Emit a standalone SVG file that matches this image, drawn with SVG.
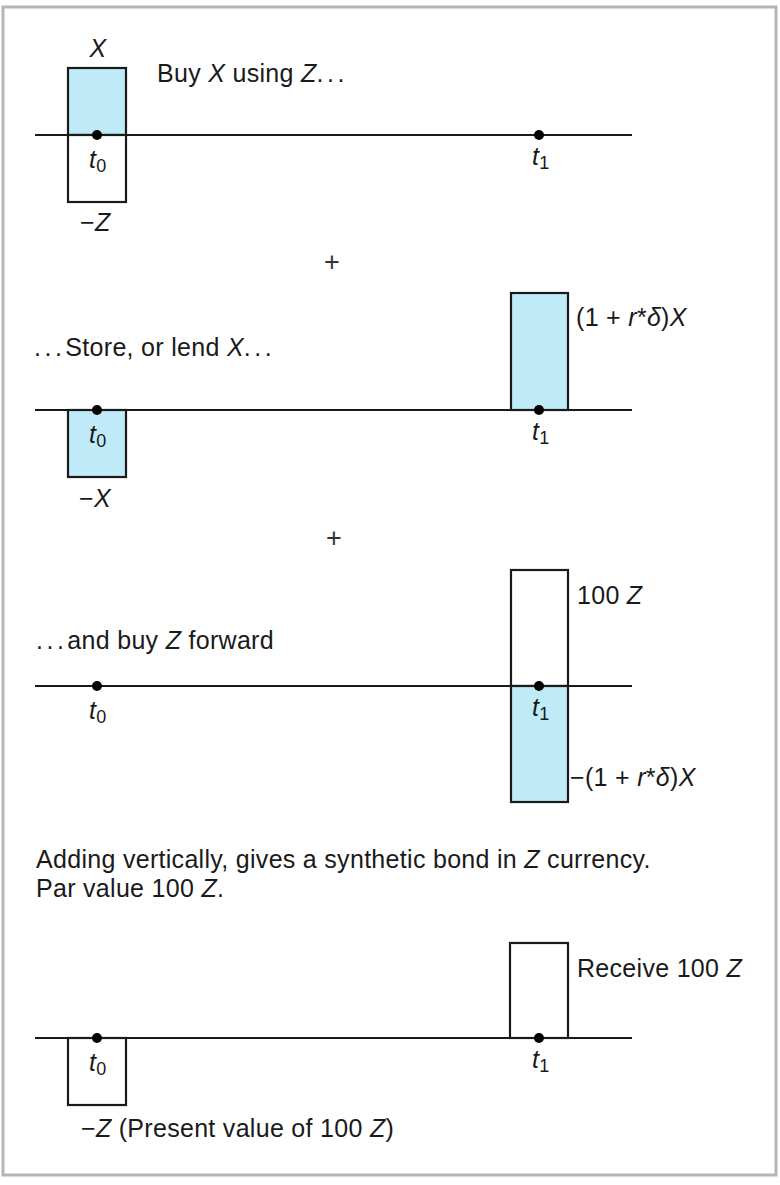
<svg xmlns="http://www.w3.org/2000/svg" width="780" height="1185" viewBox="0 0 780 1185">
<style>
text{font-family:"Liberation Sans",Arial,sans-serif;font-size:25px;fill:#1a1a1a;letter-spacing:0.3px}
.i{font-style:italic}
.sub{font-size:18px;font-style:normal}
.c{text-anchor:middle}
.plus{font-size:27px;letter-spacing:0;fill:#333}
.ax{stroke:#1a1a1a;stroke-width:2;fill:none}
.box{stroke:#1a1a1a;stroke-width:2.2}
.blue{fill:#bfeaf8}
.white{fill:#ffffff}
.dot{fill:#000}
.dots{letter-spacing:3.5px}
</style>
<rect x="3" y="7" width="773" height="1168" fill="#fff" stroke="#b5b5b5" stroke-width="3"/>
<g id="connectors">
<line class="ax" x1="35" y1="135" x2="632" y2="135"/>
<line class="ax" x1="35" y1="410" x2="632" y2="410"/>
<line class="ax" x1="35" y1="686" x2="632" y2="686"/>
<line class="ax" x1="35" y1="1038" x2="632" y2="1038"/>
</g>
<g id="panel1">
<rect class="box blue" x="68" y="68" width="58" height="67"/>
<rect class="box white" x="68" y="135" width="58" height="67"/>
<line class="ax" x1="35" y1="135" x2="632" y2="135"/>
<circle class="dot" cx="97" cy="135" r="5"/>
<circle class="dot" cx="539" cy="135" r="5"/>
<text class="c i" x="98" y="57">X</text>
<text x="157" y="82">Buy <tspan class="i">X</tspan> using <tspan class="i">Z</tspan><tspan class="dots">...</tspan></text>
<text x="89" y="168"><tspan class="i">t</tspan><tspan class="sub" dy="4">0</tspan></text>
<text x="532" y="165"><tspan class="i">t</tspan><tspan class="sub" dy="4">1</tspan></text>
<text x="80" y="231">−<tspan class="i">Z</tspan></text>
</g>
<g id="plus1"><text class="c plus" x="332" y="271">+</text></g>
<g id="panel2">
<rect class="box blue" x="68" y="410" width="58" height="67"/>
<rect class="box blue" x="511" y="293" width="57" height="117"/>
<line class="ax" x1="35" y1="410" x2="632" y2="410"/>
<circle class="dot" cx="97" cy="410" r="5"/>
<circle class="dot" cx="539" cy="410" r="5"/>
<text x="34" y="356"><tspan class="dots">...</tspan>Store, or lend <tspan class="i">X</tspan><tspan class="dots">...</tspan></text>
<text x="576" y="326">(1 + <tspan class="i">r</tspan>*<tspan class="i">δ</tspan>)<tspan class="i">X</tspan></text>
<text x="89" y="443"><tspan class="i">t</tspan><tspan class="sub" dy="4">0</tspan></text>
<text x="532" y="440"><tspan class="i">t</tspan><tspan class="sub" dy="4">1</tspan></text>
<text x="79" y="507">−<tspan class="i">X</tspan></text>
</g>
<g id="plus2"><text class="c plus" x="334" y="547">+</text></g>
<g id="panel3">
<rect class="box white" x="511" y="570" width="57" height="116"/>
<rect class="box blue" x="511" y="686" width="57" height="116"/>
<line class="ax" x1="35" y1="686" x2="632" y2="686"/>
<circle class="dot" cx="97" cy="686" r="5"/>
<circle class="dot" cx="539" cy="686" r="5"/>
<text x="36" y="649"><tspan class="dots">...</tspan>and buy <tspan class="i">Z</tspan> forward</text>
<text x="577" y="604">100 <tspan class="i">Z</tspan></text>
<text x="570" y="786">−(1 + <tspan class="i">r</tspan>*<tspan class="i">δ</tspan>)<tspan class="i">X</tspan></text>
<text x="89" y="719"><tspan class="i">t</tspan><tspan class="sub" dy="4">0</tspan></text>
<text x="532" y="716"><tspan class="i">t</tspan><tspan class="sub" dy="4">1</tspan></text>
</g>
<g id="summary">
<text x="36" y="868">Adding vertically, gives a synthetic bond in <tspan class="i">Z</tspan> currency.</text>
<text x="36" y="897">Par value 100 <tspan class="i">Z</tspan>.</text>
</g>
<g id="panel4">
<rect class="box white" x="68" y="1038" width="58" height="67"/>
<rect class="box white" x="510" y="943" width="58" height="95"/>
<line class="ax" x1="35" y1="1038" x2="632" y2="1038"/>
<circle class="dot" cx="97" cy="1038" r="5"/>
<circle class="dot" cx="539" cy="1038" r="5"/>
<text x="577" y="977">Receive 100 <tspan class="i">Z</tspan></text>
<text x="89" y="1071"><tspan class="i">t</tspan><tspan class="sub" dy="4">0</tspan></text>
<text x="532" y="1068"><tspan class="i">t</tspan><tspan class="sub" dy="4">1</tspan></text>
<text x="81" y="1137">−<tspan class="i">Z</tspan> (Present value of 100 <tspan class="i">Z</tspan>)</text>
</g>
</svg>
